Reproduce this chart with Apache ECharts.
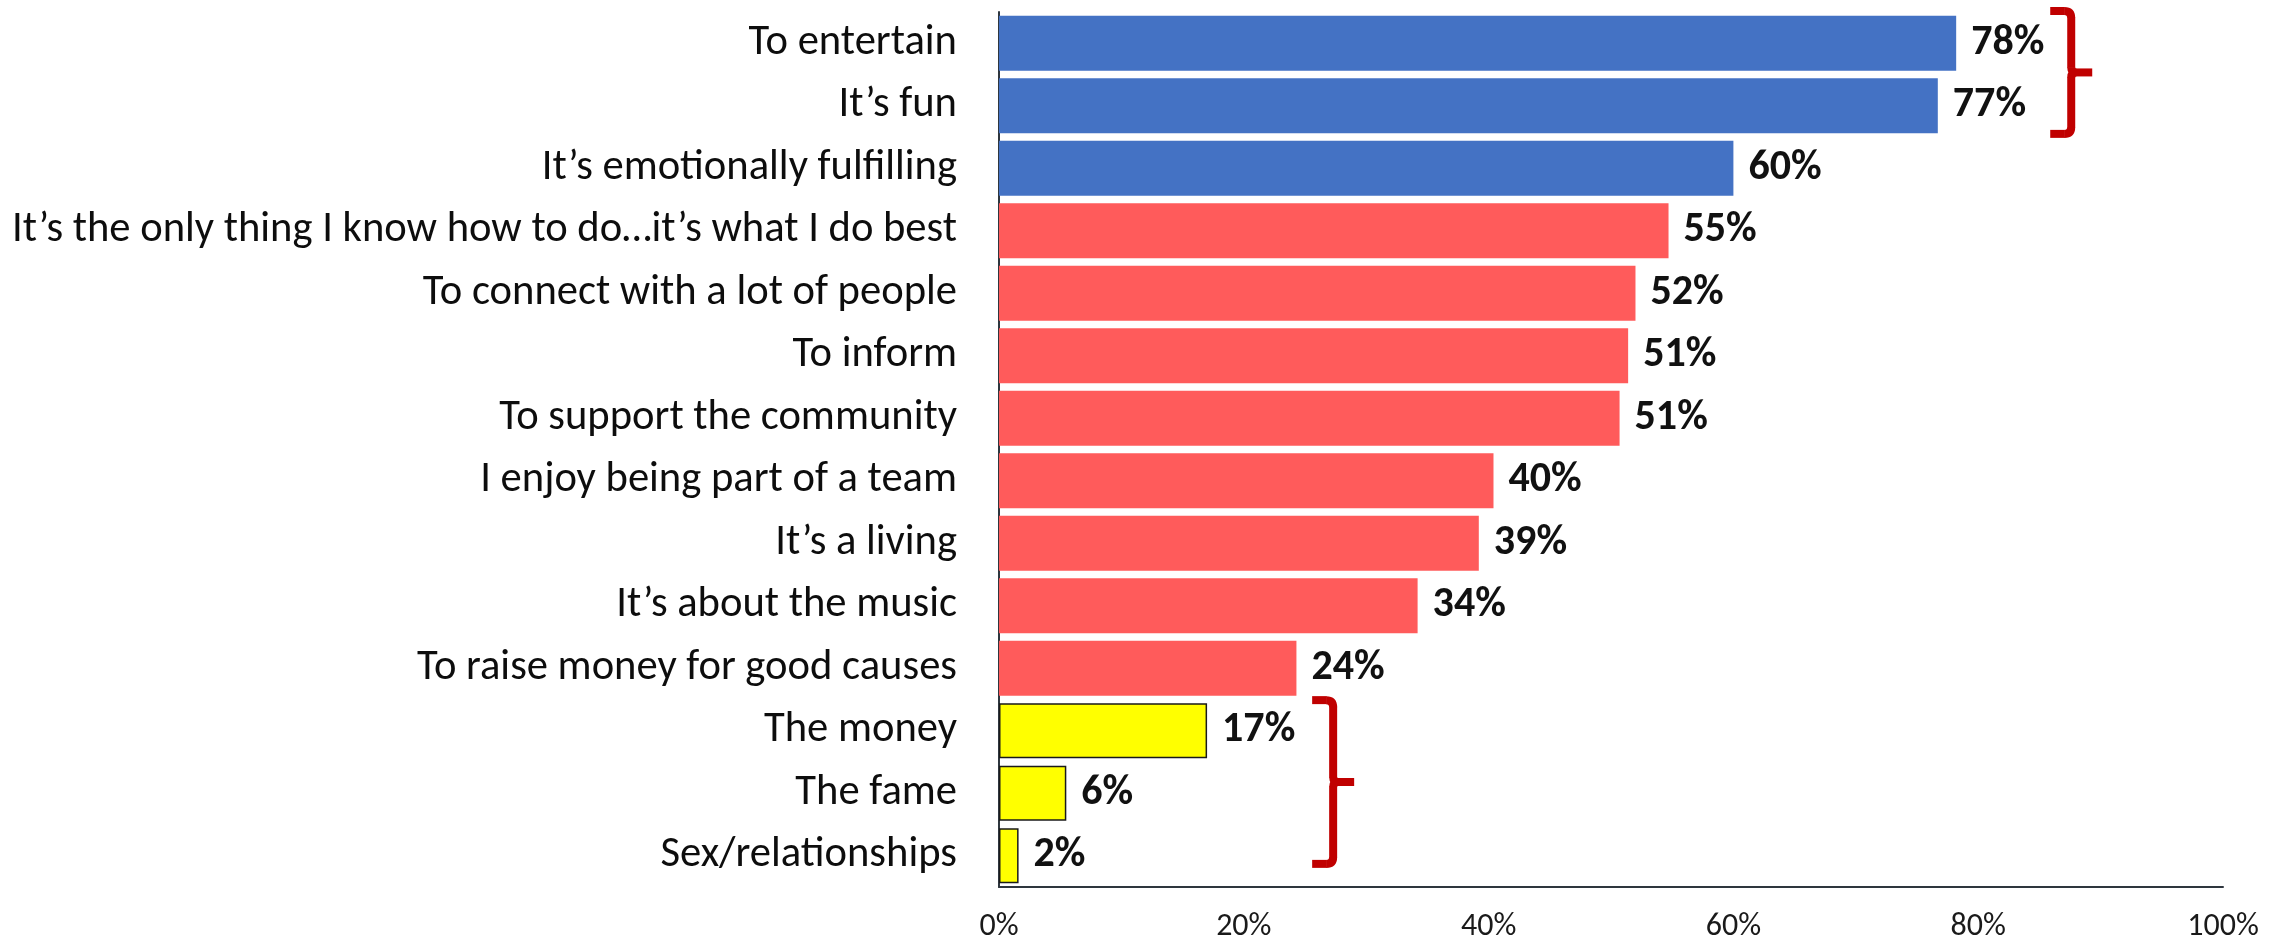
<!DOCTYPE html>
<html>
<head>
<meta charset="utf-8">
<script src="https://cdn.jsdelivr.net/npm/echarts@6/dist/echarts.min.js"></script>
<style>
html,body{margin:0;padding:0;background:#fff;}
#chart{width:2287px;height:945px;}
</style>
</head>
<body>
<div id="chart"></div>
<script>
// ---- data ----
const categories = [
  'To entertain',
  'It\u2019s fun',
  'It\u2019s emotionally fulfilling',
  'It\u2019s the only thing I know how to do\u2026it\u2019s what I do best',
  'To connect with a lot of people',
  'To inform',
  'To support the community',
  'I enjoy being part of a team',
  'It\u2019s a living',
  'It\u2019s about the music',
  'To raise money for good causes',
  'The money',
  'The fame',
  'Sex/relationships'
];
const values = [78.2, 76.7, 60.0, 54.7, 52.0, 51.4, 50.7, 40.4, 39.2, 34.2, 24.3, 17.0, 5.5, 1.6];
const groups = ['top','top','top','mid','mid','mid','mid','mid','mid','mid','mid','low','low','low'];
const xTicks = [0, 20, 40, 60, 80, 100];
// brackets: [x value, first category, last category, extend above (bands), extend below (bands)]
const brackets = [
  [87.6, 0, 1, 0.516, 0.45],
  [27.3, 11, 13, 0.49, 0.13]
];

// ---- styles ----
const groupStyle = {
  top: {color: '#4472C4', borderWidth: 0},
  mid: {color: '#FF5B5B', borderWidth: 0},
  low: {color: '#FFFF00', borderColor: '#1a1a1a', borderWidth: 1.5}
};
const FONT = 'Carlito, Lato, "Open Sans", sans-serif';

const chart = echarts.init(document.getElementById('chart'), null, {renderer: 'canvas'});

function bracketItem(params, api) {
  const x = api.value(0), a = api.value(1), b = api.value(2);
  const padT = api.value(3), padB = api.value(4);
  const band = api.size([0, 1])[1];
  const pA = api.coord([x, a]);
  const pB = api.coord([x, b]);
  const top = pA[1] - padT * band;
  const bot = pB[1] + padB * band;
  const cx = pA[0];
  const mid = (top + bot) / 2;
  const hook = 21, r = 7, tip = 21, r2 = 5;
  const st = {stroke: '#C00000', lineWidth: 8, fill: null, lineCap: 'butt'};
  const L = (x1, y1, x2, y2) => ({type: 'line', shape: {x1, y1, x2, y2}, style: st});
  const Q = (x1, y1, cpx1, cpy1, x2, y2) => ({type: 'bezierCurve', shape: {x1, y1, x2, y2, cpx1, cpy1}, style: st});
  return {
    type: 'group',
    children: [
      L(cx - hook, top, cx - r + 0.5, top),
      Q(cx - r, top, cx, top, cx, top + r),
      L(cx, top + r - 0.5, cx, mid - r2 + 0.5),
      Q(cx, mid - r2, cx, mid, cx + r2, mid),
      L(cx + r2 - 0.5, mid, cx + tip, mid),
      Q(cx, mid + r2, cx, mid, cx + r2, mid),
      L(cx, mid + r2 - 0.5, cx, bot - r + 0.5),
      Q(cx, bot - r, cx, bot, cx - r, bot),
      L(cx - r + 0.5, bot, cx - hook, bot)
    ]
  };
}

const option = {
  animation: false,
  backgroundColor: '#ffffff',
  grid: {left: 999, right: 64, top: 12, bottom: 58, containLabel: false},
  xAxis: {
    type: 'value',
    min: xTicks[0],
    max: xTicks[xTicks.length - 1],
    interval: xTicks[1] - xTicks[0],
    axisLine: {show: true, lineStyle: {color: '#2E363E', width: 2}},
    axisTick: {show: false},
    splitLine: {show: false},
    axisLabel: {
      formatter: '{value}%',
      fontFamily: FONT,
      fontSize: 32,
      color: '#1a1a1a',
      margin: 24
    }
  },
  yAxis: {
    type: 'category',
    inverse: true,
    data: categories,
    axisLine: {show: true, lineStyle: {color: '#2E363E', width: 2}},
    axisTick: {show: false},
    splitLine: {show: false},
    axisLabel: {
      fontFamily: FONT,
      fontSize: 42.6,
      color: '#0d0d0d',
      margin: 42
    }
  },
  series: [
    {
      type: 'bar',
      barCategoryGap: '12%',
      data: values.map((v, i) => ({value: v, itemStyle: groupStyle[groups[i]]})),
      label: {
        show: true,
        position: 'right',
        distance: 15,
        formatter: p => Math.round(p.value) + '%',
        fontFamily: FONT,
        fontWeight: 'bold',
        fontSize: 42,
        color: '#111111'
      }
    },
    {
      type: 'custom',
      silent: true,
      clip: false,
      z: 5,
      encode: {x: 0, y: 1},
      data: brackets,
      renderItem: bracketItem
    }
  ]
};
chart.setOption(option);
</script>
</body>
</html>
